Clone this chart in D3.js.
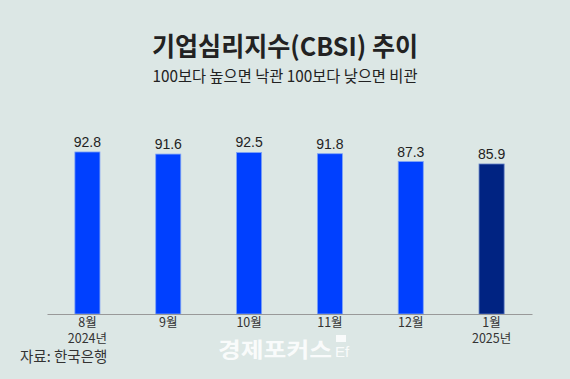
<!DOCTYPE html>
<html><head><meta charset="utf-8">
<script src="https://cdn.jsdelivr.net/npm/d3@7"></script>
<style>
html,body{margin:0;padding:0;background:#dce7e5;}
svg{display:block;}
</style></head>
<body>
<svg id="c" width="570" height="379"></svg>
<script>
const months = ["8월","9월","10월","11월","12월","1월"];
const years = ["2024년","","","","","2025년"];
const values = [92.8, 91.6, 92.5, 91.8, 87.3, 85.9];
const title = "기업심리지수(CBSI) 추이";
const subtitle = "100보다 높으면 낙관 100보다 낮으면 비관";
const source = "자료: 한국은행";

const W = 570, H = 379;
const svg = d3.select("#c");
svg.append("rect").attr("width", W).attr("height", H).attr("fill", "#dce7e5");

const x = d3.scaleBand().domain(months).range([47, 532]).paddingInner(0.69).paddingOuter(0.345);
const y = d3.scaleLinear().domain([0, 100]).range([314, 139.4]);

const kr = "'Noto Sans CJK KR','Noto Sans',sans-serif";
const narrow = "'Liberation Sans Narrow','Noto Sans CJK KR',sans-serif";

svg.append("text").attr("x", 285).attr("y", 56).attr("text-anchor", "middle")
  .attr("font-family", kr).attr("font-weight", 700).attr("font-size", 26)
  .attr("fill", "#222").attr("textLength", 266).attr("lengthAdjust", "spacingAndGlyphs").text(title);
svg.append("text").attr("x", 285).attr("y", 82).attr("text-anchor", "middle")
  .attr("font-family", kr).attr("font-size", 16).attr("fill", "#222")
  .attr("textLength", 265).attr("lengthAdjust", "spacingAndGlyphs").text(subtitle);

svg.selectAll("rect.bar").data(values).join("rect").attr("class", "bar")
  .attr("x", (d, i) => x(months[i]))
  .attr("y", d => y(d))
  .attr("width", x.bandwidth())
  .attr("height", d => y(0) - y(d))
  .attr("fill", (d, i) => i === values.length - 1 ? "#002382" : "#0040ff")
  .attr("stroke", (d, i) => i === values.length - 1 ? "#5d7bc4" : "#7fa3f5")
  .attr("stroke-width", 0.8);

svg.selectAll("text.val").data(values).join("text").attr("class", "val")
  .attr("x", (d, i) => x(months[i]) + x.bandwidth() / 2)
  .attr("y", d => y(d) - 5)
  .attr("text-anchor", "middle")
  .attr("font-family", "'Liberation Sans',Arial,sans-serif").attr("font-size", 14)
  .attr("fill", "#222").text(d => d.toFixed(1));

const axis = d3.axisBottom(x).tickSize(0).tickPadding(0);
const gx = svg.append("g").attr("transform", `translate(0,${y(0)})`).call(axis);
gx.select(".domain").attr("stroke", "#999").attr("stroke-width", 1);
gx.selectAll(".tick text").remove();
gx.selectAll(".tick").append("text")
  .attr("y", 13).attr("text-anchor", "middle")
  .attr("font-family", narrow).attr("font-size", 12.5).attr("fill", "#333")
  .text(d => d);
gx.selectAll(".tick").filter((d, i) => years[i] !== "").append("text")
  .attr("y", 28.5).attr("text-anchor", "middle")
  .attr("font-family", narrow).attr("font-size", 12.5).attr("fill", "#333")
  .text((d) => years[months.indexOf(d)]);

svg.append("text").attr("x", 20).attr("y", 362)
  .attr("font-family", narrow).attr("font-size", 14.5).attr("fill", "#333")
  .text(source);

// watermark
const wm = svg.append("g").attr("opacity", 0.85);
wm.append("text").attr("x", 218).attr("y", 357)
  .attr("font-family", kr).attr("font-weight", 700).attr("font-size", 21)
  .attr("fill", "#ffffff").attr("textLength", 114).attr("lengthAdjust", "spacingAndGlyphs").text("경제포커스");
wm.append("rect").attr("x", 336).attr("y", 335).attr("width", 10).attr("height", 7).attr("fill", "#fff");
wm.append("text").attr("x", 335).attr("y", 357)
  .attr("font-family", "'Liberation Sans',Arial,sans-serif").attr("font-size", 15)
  .attr("fill", "#ffffff").text("Ef");
</script>
</body></html>
